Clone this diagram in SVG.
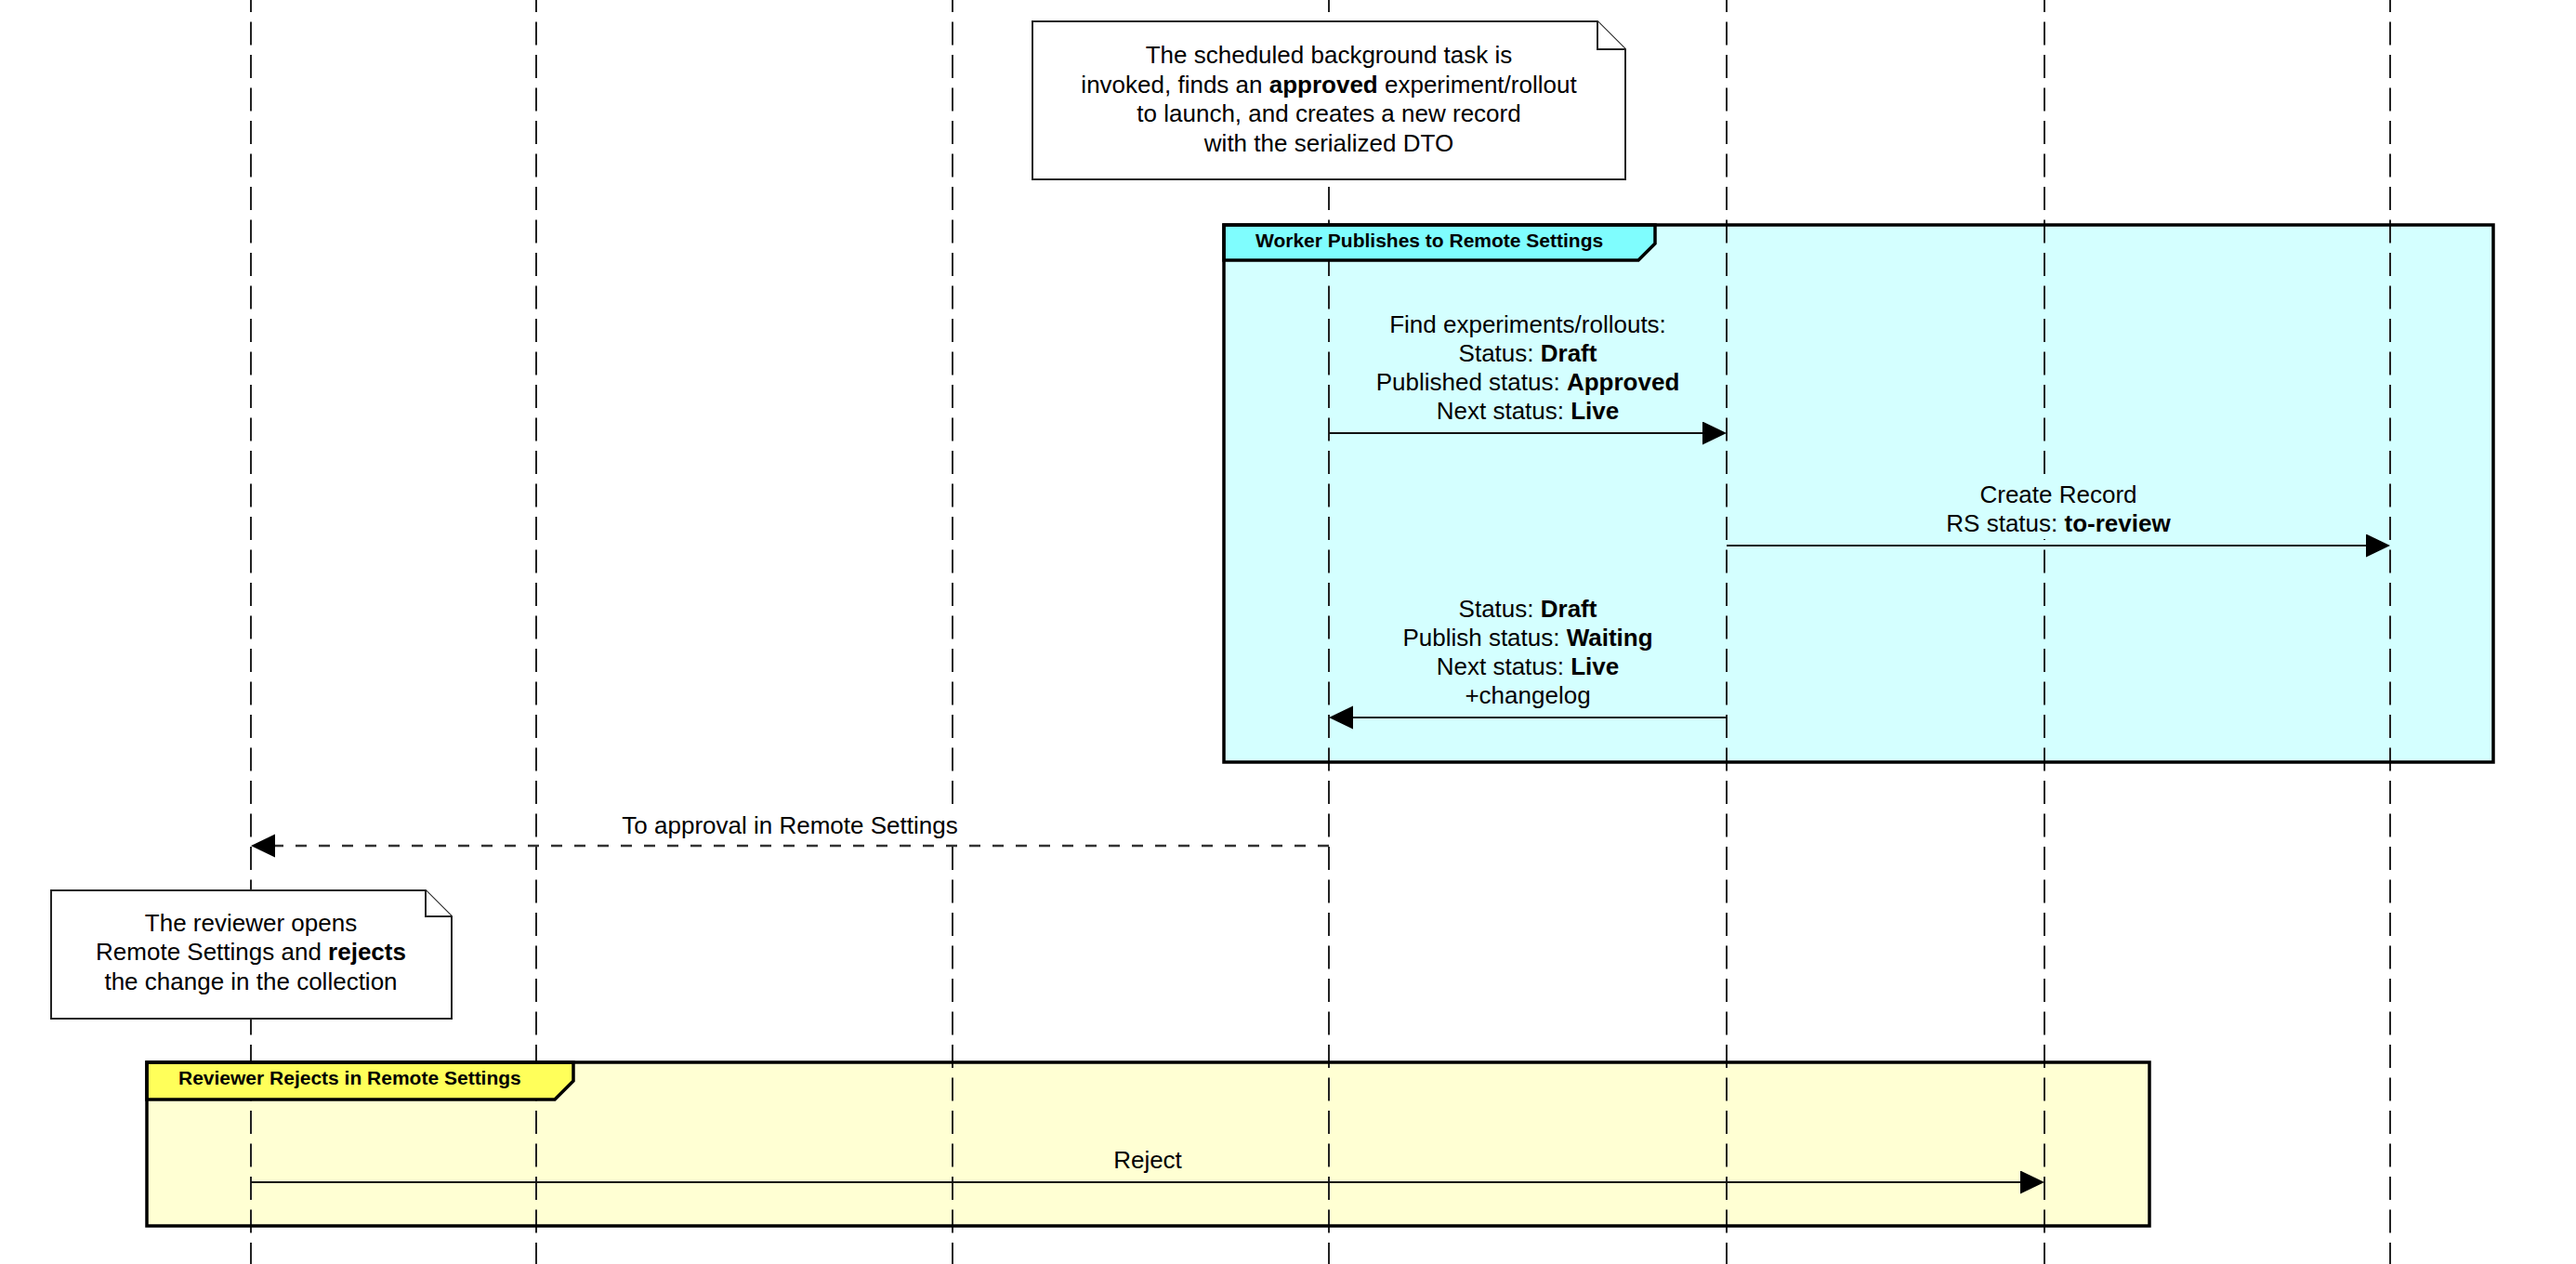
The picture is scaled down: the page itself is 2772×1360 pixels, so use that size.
<svg xmlns="http://www.w3.org/2000/svg" width="2772" height="1360" viewBox="0 0 2772 1360">
<style>
  text { font-family: "Liberation Sans", Arial, Helvetica, sans-serif; fill: #000; }
  .t { font-size: 26px; text-anchor: middle; }
  .b { font-weight: bold; }
  .hdr { font-size: 21px; font-weight: bold; }
  .life { stroke: #222; stroke-width: 2; stroke-dasharray: 25 10.5; stroke-dashoffset: 12; fill: none; }
  .msg { stroke: #111; stroke-width: 2; fill: none; }
  .dash { stroke-dasharray: 12 13; stroke: #333; stroke-width: 2.5; }
  .note { fill: #fff; stroke: #222; stroke-width: 2; }
  .frame { fill: none; stroke: #000; stroke-width: 3.5; }
</style>
<defs>
  <marker id="ah" markerUnits="userSpaceOnUse" markerWidth="28" markerHeight="28" refX="16" refY="12.5" orient="auto">
    <path d="M0,0 L26,12.5 L0,25 Z" fill="#000"/>
  </marker>
</defs>

<!-- frame bodies -->
<g id="frame-worker-body">
  <rect x="1317" y="242" width="1366" height="578" fill="#D4FFFF"/>
</g>
<g id="frame-reviewer-body">
  <rect x="158" y="1143" width="2155" height="176" fill="#FFFFD3"/>
</g>

<!-- lifelines -->
<g id="lifelines">
  <line class="life" x1="270" y1="0" x2="270" y2="1360"/>
  <line class="life" x1="577" y1="0" x2="577" y2="1360"/>
  <line class="life" x1="1025" y1="0" x2="1025" y2="1360"/>
  <line class="life" x1="1430" y1="0" x2="1430" y2="1360"/>
  <line class="life" x1="1858" y1="0" x2="1858" y2="1360"/>
  <line class="life" x1="2200" y1="0" x2="2200" y2="1360"/>
  <line class="life" x1="2572" y1="0" x2="2572" y2="1360"/>
</g>

<!-- frame headers and borders -->
<g id="frame-worker">
  <path d="M1317,242 H1781 V262 L1763,280 H1317 Z" fill="#7FFDFE" stroke="#000" stroke-width="3.5"/>
  <rect class="frame" x="1317" y="242" width="1366" height="578"/>
  <text class="hdr" x="1351" y="266">Worker Publishes to Remote Settings</text>
</g>
<g id="frame-reviewer">
  <path d="M158,1143 H617 V1163 L597,1183 H158 Z" fill="#FFFF5A" stroke="#000" stroke-width="3.5"/>
  <rect class="frame" x="158" y="1143" width="2155" height="176"/>
  <text class="hdr" x="192" y="1167">Reviewer Rejects in Remote Settings</text>
</g>

<!-- notes -->
<g id="note-scheduled">
  <path class="note" d="M1111,23 H1719 L1749,53 V193 H1111 Z"/>
  <path class="note" d="M1719,23 V53 H1749"/>
  <text class="t" x="1430" y="68">The scheduled background task is</text>
  <text class="t" x="1430" y="100">invoked, finds an <tspan class="b">approved</tspan> experiment/rollout</text>
  <text class="t" x="1430" y="131">to launch, and creates a new record</text>
  <text class="t" x="1430" y="163">with the serialized DTO</text>
</g>
<g id="note-reviewer">
  <path class="note" d="M55,958 H458 L486,986 V1096 H55 Z"/>
  <path class="note" d="M458,958 V986 H486"/>
  <text class="t" x="270" y="1002">The reviewer opens</text>
  <text class="t" x="270" y="1033">Remote Settings and <tspan class="b">rejects</tspan></text>
  <text class="t" x="270" y="1065">the change in the collection</text>
</g>

<!-- connectors -->
<g id="connectors">
  <g id="msg-find">
    <line class="msg" x1="1430" y1="466" x2="1848" y2="466" marker-end="url(#ah)"/>
    <text class="t" x="1644" y="358">Find experiments/rollouts:</text>
    <text class="t" x="1644" y="389">Status: <tspan class="b">Draft</tspan></text>
    <text class="t" x="1644" y="420">Published status: <tspan class="b">Approved</tspan></text>
    <text class="t" x="1644" y="451">Next status: <tspan class="b">Live</tspan></text>
  </g>
  <g id="msg-create">
    <rect x="2085" y="512" width="260" height="68" fill="#D4FFFF"/>
    <line class="msg" x1="1858" y1="587" x2="2562" y2="587" marker-end="url(#ah)"/>
    <text class="t" x="2215" y="541">Create Record</text>
    <text class="t" x="2215" y="572">RS status: <tspan class="b">to-review</tspan></text>
  </g>
  <g id="msg-status">
    <line class="msg" x1="1858" y1="772" x2="1440" y2="772" marker-end="url(#ah)"/>
    <text class="t" x="1644" y="664">Status: <tspan class="b">Draft</tspan></text>
    <text class="t" x="1644" y="695">Publish status: <tspan class="b">Waiting</tspan></text>
    <text class="t" x="1644" y="726">Next status: <tspan class="b">Live</tspan></text>
    <text class="t" x="1644" y="757">+changelog</text>
  </g>
  <g id="msg-approval">
    <rect x="660" y="866" width="380" height="38" fill="#fff"/>
    <line class="msg dash" x1="1430" y1="910" x2="280" y2="910" marker-end="url(#ah)"/>
    <text class="t" x="850" y="897">To approval in Remote Settings</text>
  </g>
  <g id="msg-reject">
    <line class="msg" x1="270" y1="1272" x2="2190" y2="1272" marker-end="url(#ah)"/>
    <text class="t" x="1235" y="1257">Reject</text>
  </g>
</g>
</svg>
